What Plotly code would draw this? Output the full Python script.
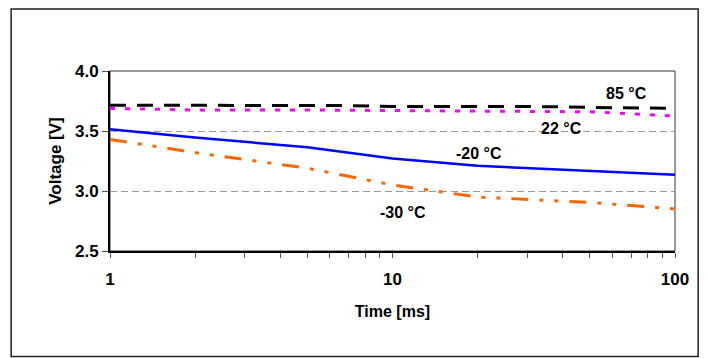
import numpy as np
import plotly.graph_objects as go

# Discharge voltage vs. pulse time at several temperatures
t_85 = [1, 2, 5, 7, 10, 20, 30, 50, 70, 100]
v_85 = [3.715, 3.715, 3.715, 3.712, 3.705, 3.705, 3.705, 3.697, 3.690, 3.688]

t_22 = [1, 1.5, 2, 5, 10, 20, 50, 100]
v_22 = [3.688, 3.680, 3.675, 3.675, 3.670, 3.663, 3.660, 3.625]

t_m20 = [1, 2, 5, 10, 20, 50, 100]
v_m20 = [3.515, 3.445, 3.365, 3.270, 3.210, 3.170, 3.135]

t_m30 = [1, 2, 5, 10, 20, 50, 100]
v_m30 = [3.430, 3.320, 3.190, 3.050, 2.950, 2.905, 2.850]

label_text = ["85 °C", "22 °C", "-20 °C", "-30 °C"]
label_t = [67.3, 39.7, 20.2, 10.85]
label_v = [3.81, 3.52, 3.31, 2.825]

x_tickvals = [1, 2, 3, 4, 5, 6, 7, 8, 9, 10, 20, 30, 40, 50, 60, 70, 80, 90, 100]
x_ticktext = ["1", "", "", "", "", "", "", "", "", "10", "", "", "", "", "", "", "", "", "100"]
y_tickvals = [2.5, 3.0, 3.5, 4.0]
y_ticktext = ["2.5", "3.0", "3.5", "4.0"]

FONT = "Liberation Sans, Arial, sans-serif"

fig = go.Figure()
fig.add_trace(go.Scatter(x=t_85, y=v_85, mode="lines",
                         line=dict(color="black", width=3, dash="16px,11px")))
fig.add_trace(go.Scatter(x=t_22, y=v_22, mode="lines",
                         line=dict(color="#ff00ff", width=3, dash="5px,10px")))
fig.add_trace(go.Scatter(x=t_m20, y=v_m20, mode="lines",
                         line=dict(color="#0000ff", width=2.5)))
fig.add_trace(go.Scatter(x=t_m30, y=v_m30, mode="lines",
                         line=dict(color="#ff6600", width=3,
                                   dash="17px,11px,4px,11px,4px,11px")))

for txt, tx, vy in zip(label_text, label_t, label_v):
    fig.add_annotation(x=np.log10(tx), y=vy, xref="x", yref="y", text=f"<b>{txt}</b>",
                       showarrow=False, font=dict(family=FONT, size=16, color="black"))

# plot-area frame (thin top/right), outer chart frame
fig.add_shape(type="rect", xref="paper", yref="paper", x0=0, x1=1, y0=0, y1=1,
              line=dict(color="#333333", width=1), layer="below")
fig.add_shape(type="rect", xref="paper", yref="paper",
              x0=-0.175, x1=1.041, y0=-0.586, y1=1.344,
              line=dict(color="#222222", width=1.5), layer="below")

fig.update_layout(
    width=707, height=358,
    margin=dict(l=110, r=32, t=71, b=107),
    paper_bgcolor="white", plot_bgcolor="white",
    showlegend=False,
    font=dict(family=FONT, size=17, color="black"),
    xaxis=dict(
        type="log", range=[0, 2],
        tickmode="array", tickvals=x_tickvals, ticktext=x_ticktext,
        ticks="outside", ticklen=5, tickwidth=1, tickcolor="#555555",
        ticklabelstandoff=7,
        showline=True, linecolor="black", linewidth=2,
        showgrid=False, zeroline=False,
        tickfont=dict(family=FONT, size=17, color="black", weight="bold"),
        title=dict(text="<b>Time [ms]</b>", font=dict(family=FONT, size=16), standoff=17),
    ),
    yaxis=dict(
        range=[2.5, 4.0],
        tickmode="array", tickvals=y_tickvals, ticktext=y_ticktext,
        ticks="outside", ticklen=6, tickwidth=1, tickcolor="#555555",
        showline=True, linecolor="black", linewidth=2,
        showgrid=True, gridcolor="#999999", gridwidth=1, griddash="7px,4px",
        zeroline=False,
        tickfont=dict(family=FONT, size=17, color="black", weight="bold"),
        title=dict(text="<b>Voltage [V]</b>", font=dict(family=FONT, size=17), standoff=9),
    ),
)

fig.write_html("out.html")
